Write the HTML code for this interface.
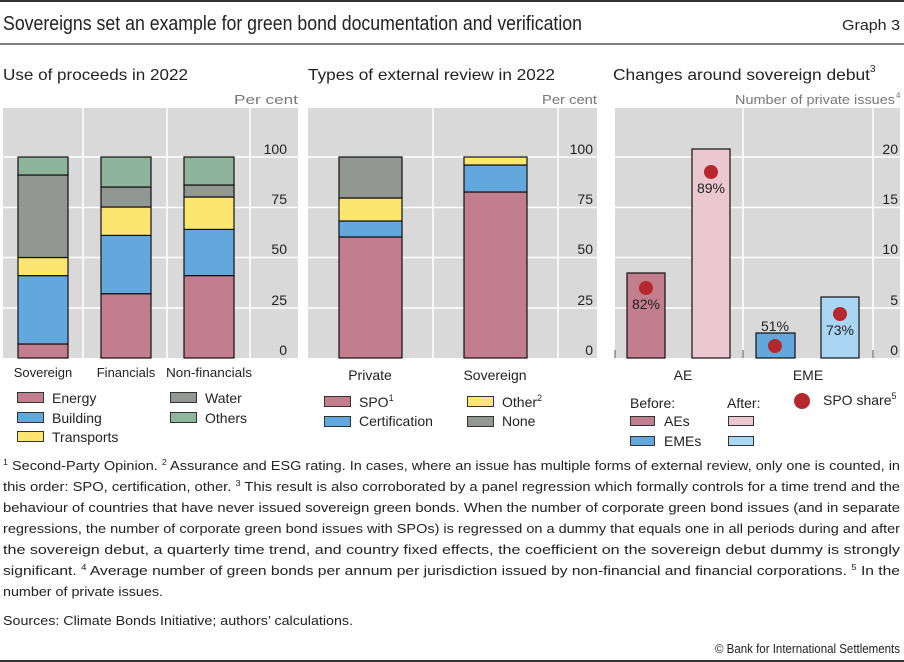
<!DOCTYPE html>
<html><head><meta charset="utf-8"><style>
html,body{margin:0;padding:0;background:#fff;}
svg{display:block;font-family:"Liberation Sans",sans-serif;}
</style></head><body>
<svg width="904" height="662" viewBox="0 0 904 662" xmlns="http://www.w3.org/2000/svg">
<rect x="0" y="0" width="904" height="662" fill="#fff"/>
<line x1="0" y1="1" x2="904" y2="1" stroke="#333" stroke-width="2"/>
<line x1="0" y1="44" x2="904" y2="44" stroke="#555" stroke-width="1.5"/>
<line x1="0" y1="661" x2="904" y2="661" stroke="#333" stroke-width="2"/>
<text x="3" y="30" font-size="20" fill="#222" textLength="579" lengthAdjust="spacingAndGlyphs">Sovereigns set an example for green bond documentation and verification</text>
<text x="900" y="30" font-size="15" fill="#222" text-anchor="end" textLength="58" lengthAdjust="spacingAndGlyphs">Graph 3</text>

<g font-size="16" fill="#222">
<text x="3" y="80" textLength="185" lengthAdjust="spacingAndGlyphs">Use of proceeds in 2022</text>
<text x="308" y="80" textLength="247" lengthAdjust="spacingAndGlyphs">Types of external review in 2022</text>
<text x="613" y="80" textLength="257" lengthAdjust="spacingAndGlyphs">Changes around sovereign debut</text>
<text x="870" y="72" font-size="10">3</text>
</g>
<g font-size="13" fill="#777">
<text x="298" y="104" text-anchor="end" textLength="64" lengthAdjust="spacingAndGlyphs">Per cent</text>
<text x="597" y="104" text-anchor="end" textLength="55" lengthAdjust="spacingAndGlyphs">Per cent</text>
<text x="895" y="104" text-anchor="end" textLength="160" lengthAdjust="spacingAndGlyphs">Number of private issues</text>
<text x="896" y="98" font-size="8">4</text>
</g>

<!-- Panel 1 -->
<rect x="3" y="108" width="295" height="250" fill="#d9d9d9"/>
<g stroke="#fff" stroke-width="1.5">
<line x1="3" y1="157" x2="298" y2="157"/><line x1="3" y1="207.5" x2="298" y2="207.5"/>
<line x1="3" y1="257.5" x2="298" y2="257.5"/><line x1="3" y1="308" x2="298" y2="308"/>
<line x1="83" y1="108" x2="83" y2="358"/><line x1="167" y1="108" x2="167" y2="358"/><line x1="250" y1="108" x2="250" y2="358"/>
</g>
<g stroke="#111" stroke-width="1.2">
<rect x="18" y="344" width="50" height="14" fill="#c27d8e"/>
<rect x="18" y="275.6" width="50" height="68.4" fill="#63a8dd"/>
<rect x="18" y="257.5" width="50" height="18.1" fill="#fde66f"/>
<rect x="18" y="175" width="50" height="82.5" fill="#939793"/>
<rect x="18" y="157" width="50" height="18" fill="#8eb59b"/>

<rect x="101" y="293.7" width="50" height="64.3" fill="#c27d8e"/>
<rect x="101" y="235.4" width="50" height="58.3" fill="#63a8dd"/>
<rect x="101" y="207" width="50" height="28.4" fill="#fde66f"/>
<rect x="101" y="187" width="50" height="20" fill="#939793"/>
<rect x="101" y="157" width="50" height="30" fill="#8eb59b"/>

<rect x="184" y="275.6" width="50" height="82.4" fill="#c27d8e"/>
<rect x="184" y="229.4" width="50" height="46.2" fill="#63a8dd"/>
<rect x="184" y="197" width="50" height="32.4" fill="#fde66f"/>
<rect x="184" y="185" width="50" height="12" fill="#939793"/>
<rect x="184" y="157" width="50" height="28" fill="#8eb59b"/>
</g>
<g font-size="14" fill="#222" text-anchor="end">
<text x="287" y="154">100</text><text x="287" y="204">75</text><text x="287" y="254">50</text><text x="287" y="305">25</text><text x="287" y="355">0</text>
</g>
<g font-size="13" fill="#222" text-anchor="middle">
<text x="43" y="377">Sovereign</text><text x="126" y="377">Financials</text><text x="209" y="377" textLength="86" lengthAdjust="spacingAndGlyphs">Non-financials</text>
</g>
<g stroke="#333" stroke-width="1">
<rect x="17.5" y="392.5" width="26" height="10" fill="#c27d8e"/>
<rect x="17.5" y="412.5" width="26" height="10" fill="#63a8dd"/>
<rect x="17.5" y="431.5" width="26" height="10" fill="#fde66f"/>
<rect x="170.5" y="392.5" width="26" height="10" fill="#939793"/>
<rect x="170.5" y="412.5" width="26" height="10" fill="#8eb59b"/>
</g>
<g font-size="14" fill="#222">
<text x="52" y="403">Energy</text><text x="52" y="423">Building</text><text x="52" y="442">Transports</text>
<text x="205" y="403">Water</text><text x="205" y="423">Others</text>
</g>

<!-- Panel 2 -->
<rect x="308" y="108" width="289" height="250" fill="#d9d9d9"/>
<g stroke="#fff" stroke-width="1.5">
<line x1="308" y1="157" x2="597" y2="157"/><line x1="308" y1="207.5" x2="597" y2="207.5"/>
<line x1="308" y1="257.5" x2="597" y2="257.5"/><line x1="308" y1="308" x2="597" y2="308"/>
<line x1="433" y1="108" x2="433" y2="358"/><line x1="558" y1="108" x2="558" y2="358"/>
</g>
<g stroke="#111" stroke-width="1.2">
<rect x="339" y="237" width="63" height="121" fill="#c27d8e"/>
<rect x="339" y="221" width="63" height="16" fill="#63a8dd"/>
<rect x="339" y="198" width="63" height="23" fill="#fde66f"/>
<rect x="339" y="157" width="63" height="41" fill="#939793"/>
<rect x="464" y="192" width="63" height="166" fill="#c27d8e"/>
<rect x="464" y="165" width="63" height="27" fill="#63a8dd"/>
<rect x="464" y="157" width="63" height="8" fill="#fde66f"/>
</g>
<g font-size="14" fill="#222" text-anchor="end">
<text x="593" y="154">100</text><text x="593" y="204">75</text><text x="593" y="254">50</text><text x="593" y="305">25</text><text x="593" y="355">0</text>
</g>
<g font-size="14" fill="#222" text-anchor="middle">
<text x="370" y="380">Private</text><text x="495" y="380">Sovereign</text>
</g>
<g stroke="#333" stroke-width="1">
<rect x="324.5" y="396.5" width="26" height="10" fill="#c27d8e"/>
<rect x="324.5" y="416.5" width="26" height="10" fill="#63a8dd"/>
<rect x="467.5" y="396.5" width="26" height="10" fill="#fde66f"/>
<rect x="467.5" y="416.5" width="26" height="10" fill="#939793"/>
</g>
<g font-size="14" fill="#222">
<text x="359" y="407">SPO<tspan font-size="9" dy="-6">1</tspan></text>
<text x="359" y="426">Certification</text>
<text x="502" y="407">Other<tspan font-size="9" dy="-6">2</tspan></text>
<text x="502" y="426">None</text>
</g>

<!-- Panel 3 -->
<rect x="615" y="108" width="285" height="250" fill="#d9d9d9"/>
<g stroke="#fff" stroke-width="1.5">
<line x1="615" y1="157" x2="900" y2="157"/><line x1="615" y1="207.5" x2="900" y2="207.5"/>
<line x1="615" y1="257.5" x2="900" y2="257.5"/><line x1="615" y1="308" x2="900" y2="308"/>
<line x1="743" y1="108" x2="743" y2="358"/><line x1="873" y1="108" x2="873" y2="358"/>
</g>
<g stroke="#111" stroke-width="1.2">
<rect x="627" y="273" width="38" height="85" fill="#c27d8e"/>
<rect x="692" y="149" width="38" height="209" fill="#ebc7d1"/>
<rect x="756" y="333" width="39" height="25" fill="#63a8dd"/>
<rect x="821" y="297" width="38" height="61" fill="#a9d6f2"/>
</g>
<g stroke="#555" stroke-width="1">
<line x1="615" y1="350" x2="615" y2="358"/><line x1="743" y1="350" x2="743" y2="358"/><line x1="873" y1="350" x2="873" y2="358"/>
</g>
<g fill="#b5282e">
<circle cx="646" cy="288" r="7"/><circle cx="711" cy="172" r="7"/>
<circle cx="775" cy="346" r="7"/><circle cx="840" cy="314" r="7"/>
</g>
<g font-size="14" fill="#222" text-anchor="middle">
<text x="646" y="309">82%</text><text x="711" y="193">89%</text>
<text x="775" y="331">51%</text><text x="840" y="335">73%</text>
</g>
<g font-size="14" fill="#222" text-anchor="end">
<text x="898" y="154">20</text><text x="898" y="204">15</text><text x="898" y="254">10</text><text x="898" y="305">5</text><text x="898" y="355">0</text>
</g>
<g font-size="14" fill="#222" text-anchor="middle">
<text x="683" y="380">AE</text><text x="808" y="380">EME</text>
</g>
<g font-size="14" fill="#222">
<text x="630" y="408">Before:</text><text x="727" y="408">After:</text>
<text x="664" y="426">AEs</text><text x="664" y="446">EMEs</text>
<text x="823" y="405">SPO share<tspan font-size="9" dy="-6">5</tspan></text>
</g>
<g stroke="#333" stroke-width="1">
<rect x="630.5" y="416.5" width="24" height="9" fill="#c27d8e"/>
<rect x="630.5" y="436.5" width="24" height="9" fill="#63a8dd"/>
<rect x="728.5" y="416.5" width="25" height="9" fill="#ebc7d1"/>
<rect x="728.5" y="436.5" width="25" height="9" fill="#a9d6f2"/>
</g>
<circle cx="802" cy="401" r="8" fill="#b5282e"/>

<!-- Footnotes -->
<g font-size="13" fill="#222">
<text x="3" y="470" textLength="897" lengthAdjust="spacingAndGlyphs"><tspan font-size="8" dy="-5">1</tspan><tspan dy="5">  Second-Party Opinion.    </tspan><tspan font-size="8" dy="-5">2</tspan><tspan dy="5">  Assurance and ESG rating. In cases, where an issue has multiple forms of external review, only one is counted, in</tspan></text>
<text x="3" y="491" textLength="897" lengthAdjust="spacingAndGlyphs">this order: SPO, certification, other.    <tspan font-size="8" dy="-5">3</tspan><tspan dy="5">  This result is also corroborated by a panel regression which formally controls for a time trend and the</tspan></text>
<text x="3" y="512" textLength="897" lengthAdjust="spacingAndGlyphs">behaviour of countries that have never issued sovereign green bonds. When the number of corporate green bond issues (and in separate</text>
<text x="3" y="533" textLength="897" lengthAdjust="spacingAndGlyphs">regressions, the number of corporate green bond issues with SPOs) is regressed on a dummy that equals one in all periods during and after</text>
<text x="3" y="554" textLength="897" lengthAdjust="spacingAndGlyphs">the sovereign debut, a quarterly time trend, and country fixed effects, the coefficient on the sovereign debut dummy is strongly</text>
<text x="3" y="575" textLength="897" lengthAdjust="spacingAndGlyphs">significant.    <tspan font-size="8" dy="-5">4</tspan><tspan dy="5">  Average number of green bonds per annum per jurisdiction issued by non-financial and financial corporations.    </tspan><tspan font-size="8" dy="-5">5</tspan><tspan dy="5">  In the</tspan></text>
<text x="3" y="596" textLength="160" lengthAdjust="spacingAndGlyphs">number of private issues.</text>
<text x="3" y="625" textLength="350" lengthAdjust="spacingAndGlyphs">Sources: Climate Bonds Initiative; authors’ calculations.</text>
<text x="900" y="653" text-anchor="end" textLength="185" lengthAdjust="spacingAndGlyphs">© Bank for International Settlements</text>
</g>
</svg>
</body></html>
